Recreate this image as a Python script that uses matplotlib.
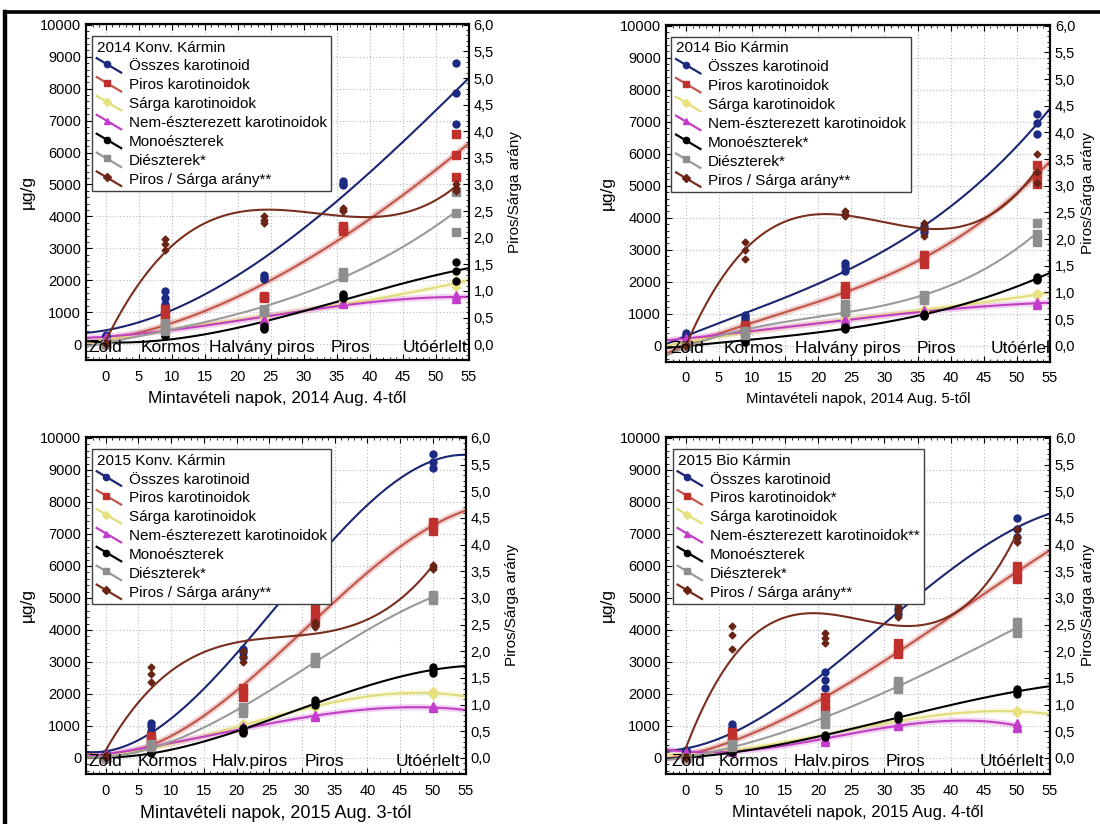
import numpy as np
import matplotlib
matplotlib.use("Agg")
import matplotlib.pyplot as plt
from matplotlib.lines import Line2D
from matplotlib.legend_handler import HandlerBase
from matplotlib.ticker import MultipleLocator, FuncFormatter

plt.rcParams['font.family'] = ['Liberation Sans', 'DejaVu Sans']

# sampling days
days_14k = [0, 9, 24, 36, 53]
days_14b = [0, 9, 24, 36, 53]
days_15k = [0, 7, 21, 32, 50]
days_15b = [0, 7, 21, 32, 50]

# 2014 Konv. Karmin, 3 replicates per day (ug/g)
k14_total = [[300, 250, 200], [1650, 1450, 1250], [2150, 2100, 2050], [5100, 5030, 4970], [8800, 7880, 6900]]
k14_red = [[20, 10, 0], [1100, 900, 750], [1520, 1480, 1440], [3700, 3620, 3550], [6570, 5920, 5230]]
k14_yellow = [[150, 120, 100], [550, 500, 450], [850, 800, 750], [1350, 1300, 1250], [2000, 1900, 1800]]
k14_free = [[220, 200, 180], [550, 500, 450], [780, 750, 720], [1320, 1280, 1250], [1550, 1450, 1400]]
k14_mono = [[0, 0, 0], [300, 280, 250], [580, 520, 460], [1560, 1500, 1450], [2570, 2280, 1980]]
k14_di = [[0, 0, 0], [650, 500, 400], [1100, 1050, 1000], [2250, 2170, 2100], [4750, 4120, 3520]]
k14_ratio = [[0.02, 0.01, 0.0], [1.98, 1.88, 1.76], [2.4, 2.34, 2.28], [2.55, 2.52, 2.5], [3.0, 2.94, 2.88]]

# 2014 Bio Karmin
b14_total = [[400, 350, 300], [950, 900, 850], [2600, 2480, 2350], [3750, 3650, 3550], [7250, 6950, 6600]]
b14_red = [[50, 30, 20], [650, 580, 520], [1880, 1750, 1620], [2850, 2700, 2550], [5650, 5350, 5050]]
b14_yellow = [[150, 120, 100], [400, 380, 350], [900, 850, 800], [1150, 1100, 1050], [1650, 1600, 1550]]
b14_free = [[250, 220, 200], [480, 450, 420], [820, 780, 740], [1120, 1080, 1040], [1380, 1320, 1280]]
b14_mono = [[0, 0, 0], [180, 150, 120], [600, 550, 520], [1000, 960, 930], [2150, 2100, 2050]]
b14_di = [[0, 0, 0], [450, 400, 350], [1300, 1180, 1050], [1580, 1500, 1420], [3850, 3500, 3250]]
b14_ratio = [[0.02, 0.01, 0.0], [1.95, 1.8, 1.63], [2.52, 2.47, 2.43], [2.3, 2.18, 2.06], [3.6, 3.25, 3.05]]

# 2015 Konv. Karmin
k15_total = [[150, 120, 100], [1100, 1000, 850], [3400, 3300, 3150], [6450, 6300, 6150], [9500, 9250, 9050]]
k15_red = [[10, 0, 0], [700, 600, 500], [2200, 2050, 1900], [4650, 4450, 4250], [7380, 7250, 7100]]
k15_yellow = [[80, 70, 60], [300, 270, 250], [1100, 1050, 1000], [1650, 1600, 1550], [2080, 2030, 1980]]
k15_free = [[150, 130, 120], [350, 320, 290], [1000, 950, 900], [1330, 1300, 1270], [1610, 1580, 1550]]
k15_mono = [[0, 0, 0], [200, 180, 150], [950, 850, 780], [1800, 1720, 1650], [2850, 2750, 2650]]
k15_di = [[0, 0, 0], [450, 400, 350], [1600, 1500, 1400], [3150, 3050, 2980], [5100, 5000, 4950]]
k15_ratio = [[0.05, 0.03, 0.0], [1.7, 1.58, 1.42], [2.0, 1.9, 1.8], [2.55, 2.5, 2.45], [3.62, 3.58, 3.55]]

# 2015 Bio Karmin
b15_total = [[250, 200, 180], [1050, 980, 900], [2700, 2450, 2200], [4900, 4650, 4500], [7500, 7150, 6900]]
b15_red = [[20, 10, 0], [800, 700, 600], [1900, 1700, 1500], [3600, 3420, 3250], [6000, 5800, 5600]]
b15_yellow = [[100, 90, 80], [350, 300, 280], [700, 650, 600], [1250, 1200, 1150], [1500, 1450, 1400]]
b15_free = [[200, 180, 150], [300, 250, 200], [600, 550, 500], [1080, 1040, 1000], [1080, 1000, 950]]
b15_mono = [[0, 0, 0], [220, 200, 180], [720, 680, 640], [1330, 1280, 1230], [2150, 2080, 2000]]
b15_di = [[0, 0, 0], [450, 400, 350], [1350, 1200, 1050], [2400, 2280, 2150], [4250, 4050, 3900]]
b15_ratio = [[0.02, 0.01, 0.0], [2.47, 2.3, 2.05], [2.35, 2.25, 2.15], [2.85, 2.75, 2.65], [4.3, 4.15, 4.05]]

titles = ["2014 Konv. Kármin", "2014 Bio Kármin", "2015 Konv. Kármin", "2015 Bio Kármin"]
xlabels = ["Mintavételi napok, 2014 Aug. 4-től", "Mintavételi napok, 2014 Aug. 5-től",
           "Mintavételi napok, 2015 Aug. 3-tól", "Mintavételi napok, 2015 Aug. 4-től"]
names_k14 = ["Összes karotinoid", "Piros karotinoidok", "Sárga karotinoidok", "Nem-észterezett karotinoidok",
             "Monoészterek", "Diészterek*", "Piros / Sárga arány**"]
names_b14 = ["Összes karotinoid", "Piros karotinoidok", "Sárga karotinoidok", "Nem-észterezett karotinoidok",
             "Monoészterek*", "Diészterek*", "Piros / Sárga arány**"]
names_k15 = names_k14
names_b15 = ["Összes karotinoid", "Piros karotinoidok*", "Sárga karotinoidok", "Nem-észterezett karotinoidok**",
             "Monoészterek", "Diészterek*", "Piros / Sárga arány**"]
stages_14 = ["Zöld", "Kormos", "Halvány piros", "Piros", "Utóérlelt"]
stages_15 = ["Zöld", "Kormos", "Halv.piros", "Piros", "Utóérlelt"]

# style per series: line colour, marker colour, marker, size, halo
styles = [
    ("#1b2670", "#1c2a82", "o", 5, False),
    ("#c0564a", "#c0302c", "s", 6, True),
    ("#e2dc7a", "#e8e27e", "D", 4, True),
    ("#c23fc4", "#c43ccc", "^", 6, True),
    ("#000000", "#000000", "o", 5, False),
    ("#9a9a9a", "#8e8e8e", "s", 6, False),
    ("#7a2e1e", "#6a2416", "D", 3.5, False),
]
# which fitted lines stop at the last sampling day
short_k14 = [False, False, False, False, False, True, True]
short_b14 = [False, False, False, False, False, True, True]
short_k15 = [False, False, False, False, False, True, True]
short_b15 = [False, False, False, True, False, True, True]


class DiagHandler(HandlerBase):
    def create_artists(self, legend, orig, xdescent, ydescent, width, height, fontsize, trans):
        x0, x1 = -xdescent, -xdescent + width
        y0, y1 = -ydescent + height * 1.15, -ydescent - height * 0.2
        ln = Line2D([x0, x1], [y0, y1], color=orig.get_color(), lw=1.6, transform=trans)
        mk = Line2D([x0 + width * 0.4], [y0 + (y1 - y0) * 0.4], marker=orig.get_marker(), ls='none',
                    color=orig.get_markerfacecolor(), ms=4.5, transform=trans)
        return [ln, mk]


def panel(rect, days, series, ratio, short, names, title, xlabel, xlab_size, stages, stage_x, leg_anchor,
          rpad=10):
    ax = fig.add_axes(rect)
    ax2 = ax.twinx()
    ax.set_xlim(-3, 55)
    ax.set_ylim(-500, 10030)
    ax2.set_ylim(-0.3, 6.018)
    ax.xaxis.set_minor_locator(MultipleLocator(1))
    ax.yaxis.set_minor_locator(MultipleLocator(200))
    ax2.yaxis.set_minor_locator(MultipleLocator(0.1))
    ax2.yaxis.set_major_formatter(FuncFormatter(lambda v, p: ("%.1f" % v).replace(".", ",")))
    ax.set_yticks(np.arange(0, 10001, 1000))
    ax.set_xticks(np.arange(0, 56, 5))
    ax2.set_yticks(np.arange(0, 6.01, 0.5))
    ax.grid(True, which='major', color='#b8b8b8', ls=(0, (1, 2)), lw=0.8)
    ax.tick_params(which='both', direction='in', top=True, right=False, labelsize=10.5)
    ax.tick_params(which='major', length=4)
    ax.tick_params(which='minor', length=2.5)
    ax.tick_params(axis='x', pad=7)
    ax2.tick_params(which='both', direction='in', labelsize=10.5)
    ax2.tick_params(which='major', length=4)
    ax2.tick_params(which='minor', length=2.5)
    for a in (ax, ax2):
        for s in a.spines.values():
            s.set_linewidth(1.5)
    ax.set_ylabel("µg/g", fontsize=12.5, labelpad=4)
    ax2.set_ylabel("Piros/Sárga arány", fontsize=11, labelpad=rpad)
    ax.set_xlabel(xlabel, fontsize=xlab_size, labelpad=5)

    handles = []
    allvals = series + [ratio]
    for i, vals in enumerate(allvals):
        lc, mc, mk, ms, halo = styles[i]
        x = np.repeat(days, 3)
        y = np.array(vals, dtype=float).ravel()
        coef = np.polyfit(x, y, 3)
        target = ax2 if i == 6 else ax
        if i == 6:
            xr = np.linspace(days[0], days[-1], 300)
        elif short[i]:
            xr = np.linspace(-3, days[-1], 300)
        else:
            xr = np.linspace(-3, 55, 300)
        yr = np.polyval(coef, xr)
        if halo:
            target.plot(xr, yr, color=mc, lw=4.5, alpha=0.22, solid_capstyle='butt', zorder=2)
        target.plot(xr, yr, color=lc, lw=1.5, zorder=3)
        target.plot(x, y, ls='none', marker=mk, ms=ms, color=mc, mec=mc, zorder=4)
        handles.append(Line2D([], [], color=lc, marker=mk, markerfacecolor=mc))

    for lab, sx in zip(stages, stage_x):
        ha = 'center'
        if lab == "Zöld":
            ha = 'left'
        if lab == "Utóérlelt":
            ha = 'right'
        ax2.text(sx, -0.06, lab, ha=ha, va='center', fontsize=12.5, zorder=6, clip_on=True)

    leg = ax2.legend(handles, names, title=title, loc='upper left', bbox_to_anchor=leg_anchor,
                     borderaxespad=0, fontsize=11, title_fontsize=11, alignment='left',
                     handler_map={Line2D: DiagHandler()}, handlelength=1.6, handletextpad=0.5,
                     labelspacing=0.32, fancybox=False, framealpha=1, edgecolor='#404040',
                     borderpad=0.3)
    leg.get_frame().set_linewidth(1.0)
    leg.set_zorder(10)
    return ax, ax2


fig = plt.figure(figsize=(11, 8.24), dpi=100)

panel([0.0782, 0.563, 0.348, 0.408], days_14k,
      [k14_total, k14_red, k14_yellow, k14_free, k14_mono, k14_di], k14_ratio, short_k14,
      names_k14, titles[0], xlabels[0], 12.3, stages_14, [-2.6, 9.85, 23.7, 37.1, 54.8], (0.016, 0.964))
panel([0.6055, 0.561, 0.349, 0.409], days_14b,
      [b14_total, b14_red, b14_yellow, b14_free, b14_mono, b14_di], b14_ratio, short_b14,
      names_b14, titles[1], xlabels[1], 10.7, stages_14, [-2.4, 10.3, 24.5, 37.9, 55.8], (0.014, 0.964),
      rpad=4)
panel([0.0782, 0.0607, 0.345, 0.409], days_15k,
      [k15_total, k15_red, k15_yellow, k15_free, k15_mono, k15_di], k15_ratio, short_k15,
      names_k15, titles[2], xlabels[2], 13, stages_15, [-2.6, 9.5, 22, 33.4, 54.2], (0.016, 0.964))
panel([0.6055, 0.0607, 0.349, 0.409], days_15b,
      [b15_total, b15_red, b15_yellow, b15_free, b15_mono, b15_di], b15_ratio, short_b15,
      names_b15, titles[3], xlabels[3], 12, stages_15, [-2.2, 9.4, 22.1, 33.2, 54.2], (0.018, 0.964),
      rpad=4)

# outer frame of the figure: top and left edges only
top_y = 1 - 12 / 824
left_x = 5 / 1100
fig.lines.append(Line2D([left_x, 1.0], [top_y, top_y], lw=2.6, color='black', transform=fig.transFigure))
fig.lines.append(Line2D([left_x, left_x], [0.0, top_y], lw=3.2, color='black', transform=fig.transFigure))

fig.savefig("out.png", dpi=100)
